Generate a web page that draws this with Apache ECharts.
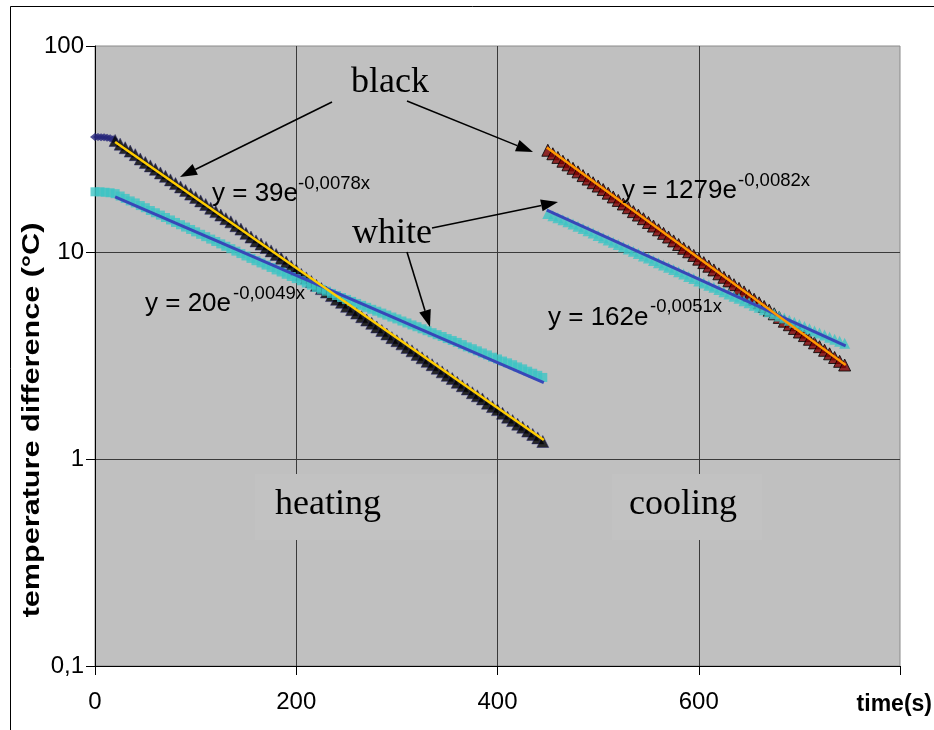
<!DOCTYPE html>
<html>
<head>
<meta charset="utf-8">
<title>temperature difference</title>
<script src="https://cdn.jsdelivr.net/npm/echarts@6/dist/echarts.min.js"></script>
<style>
	html, body { margin: 0; padding: 0; background: #fff; }
	#main { width: 934px; height: 730px; }
</style>
</head>
<body>
<div id="main"></div>
<script>
// values (time in s, temperature difference in °C)
const diamondTimes = [0, 3, 6, 9, 12, 15, 18]
const diamondValues = [36.3, 36.3, 36.2, 36.2, 36.0, 35.8, 35.4]

const heatTimes = [20, 25, 30, 35, 40, 45, 50, 55, 60, 65, 70, 75, 80, 85, 90, 95, 100, 105, 110, 115,
	120, 125, 130, 135, 140, 145, 150, 155, 160, 165, 170, 175, 180, 185, 190, 195, 200, 205, 210, 215,
	220, 225, 230, 235, 240, 245, 250, 255, 260, 265, 270, 275, 280, 285, 290, 295, 300, 305, 310, 315,
	320, 325, 330, 335, 340, 345, 350, 355, 360, 365, 370, 375, 380, 385, 390, 395, 400, 405, 410, 415,
	420, 425, 430, 435, 440, 445]
const blackHeat = [34.9, 33.5, 32.2, 31.0, 29.8, 28.4, 27.3, 26.3, 25.3, 24.3,
	23.4, 22.5, 21.6, 20.8, 20.0, 19.2, 18.5, 17.8, 17.1, 16.4,
	15.8, 15.2, 14.6, 14.1, 13.5, 13.0, 12.4, 11.9, 11.4, 11.0,
	10.6, 10.2, 9.8, 9.4, 9.0, 8.6, 8.25, 7.85, 7.55, 7.25,
	6.95, 6.7, 6.45, 6.2, 5.95, 5.75, 5.5, 5.3, 5.1, 4.9,
	4.72, 4.55, 4.37, 4.2, 4.04, 3.88, 3.75, 3.62, 3.48, 3.35,
	3.22, 3.1, 2.98, 2.87, 2.76, 2.65, 2.55, 2.46, 2.36, 2.27,
	2.19, 2.1, 2.03, 1.96, 1.87, 1.8, 1.74, 1.67, 1.6, 1.54,
	1.48, 1.43, 1.37, 1.32, 1.27, 1.22]

const whiteHeatTimes = [0, 5, 10, 15].concat(heatTimes)
const whiteHeat = [19.7, 19.7, 19.6, 19.5,
	19.3, 18.8, 18.3, 17.8, 17.4, 16.9, 16.5, 16.0, 15.6, 15.2,
	14.8, 14.4, 14.0, 13.65, 13.3, 12.95, 12.61, 12.27, 11.95, 11.63,
	11.33, 11.03, 10.74, 10.45, 10.17, 9.9, 9.64, 9.38, 9.14, 8.92,
	8.71, 8.48, 8.25, 8.06, 7.86, 7.67, 7.49, 7.31, 7.13, 6.97,
	6.79, 6.65, 6.51, 6.35, 6.2, 6.07, 5.94, 5.81, 5.68, 5.56,
	5.44, 5.32, 5.21, 5.1, 4.99, 4.88, 4.78, 4.67, 4.57, 4.47,
	4.38, 4.28, 4.19, 4.1, 4.01, 3.93, 3.84, 3.76, 3.68, 3.59,
	3.5, 3.43, 3.35, 3.27, 3.2, 3.12, 3.06, 2.99, 2.93, 2.87,
	2.8, 2.74, 2.67, 2.61, 2.55, 2.49]

const coolTimes = [450, 455, 460, 465, 470, 475, 480, 485, 490, 495, 500, 505, 510, 515, 520, 525, 530, 535, 540, 545,
	550, 555, 560, 565, 570, 575, 580, 585, 590, 595, 600, 605, 610, 615, 620, 625, 630, 635, 640, 645,
	650, 655, 660, 665, 670, 675, 680, 685, 690, 695, 700, 705, 710, 715, 720, 725, 730, 735, 740, 745]
const blackCool = [31.3, 30.1, 28.9, 27.7, 26.6, 25.6, 24.6, 23.6, 22.7, 21.8,
	21.0, 20.2, 19.4, 18.6, 17.9, 17.2, 16.5, 15.8, 15.2, 14.6,
	14.0, 13.45, 12.9, 12.4, 11.9, 11.4, 10.95, 10.5, 10.1, 9.7,
	9.3, 8.95, 8.6, 8.25, 7.9, 7.6, 7.3, 7.0, 6.72, 6.46,
	6.2, 5.95, 5.72, 5.49, 5.27, 5.06, 4.86, 4.66, 4.48, 4.3,
	4.13, 3.97, 3.81, 3.66, 3.51, 3.37, 3.24, 3.11, 2.98, 2.86]
const whiteCool = [15.46, 15.1, 14.77, 14.43, 14.11, 13.76, 13.42, 13.08, 12.75, 12.44,
	12.12, 11.82, 11.52, 11.23, 10.95, 10.67, 10.41, 10.15, 9.9, 9.64,
	9.41, 9.17, 8.94, 8.71, 8.5, 8.28, 8.08, 7.88, 7.67, 7.49,
	7.3, 7.13, 6.96, 6.8, 6.64, 6.47, 6.31, 6.16, 6.02, 5.86,
	5.72, 5.57, 5.44, 5.3, 5.18, 5.06, 4.94, 4.83, 4.71, 4.6,
	4.49, 4.39, 4.29, 4.18, 4.09, 4.0, 3.9, 3.81, 3.73, 3.64]

// trend lines (exponential -> straight on the log axis), end points
const trendHeatTimes = [20, 446]
const trendBlackHeat = [34.3, 1.24]
const trendWhiteHeat = [18.6, 2.35]
const trendCoolTimes = [449, 746]
const trendBlackCool = [32.3, 2.86]
const trendWhiteCool = [16.05, 3.54]

const pairs = (xs, ys) => xs.map((x, i) => [x, ys[i]])

const SANS = "'Liberation Sans', Arial, sans-serif"
const SERIF = "'Liberation Serif', 'Times New Roman', serif"

// text placed by left edge and baseline
const label = (text, x, baseline, size, family, weight, align) => ({
	type: 'text',
	z: 20,
	style: {
		text: text,
		x: x,
		y: baseline - size * 0.35,
		fill: '#000',
		font: (weight || 'normal') + ' ' + size + 'px ' + family,
		align: align || 'left',
		verticalAlign: 'middle'
	}
})

const arrow = (x1, y1, x2, y2) => {
	const L = Math.hypot(x2 - x1, y2 - y1)
	const ux = (x2 - x1) / L
	const uy = (y2 - y1) / L
	const bx = x2 - ux * 17
	const by = y2 - uy * 17
	return [
		{ type: 'line', z: 20, shape: { x1: x1, y1: y1, x2: bx, y2: by }, style: { stroke: '#000', lineWidth: 1.6 } },
		{
			type: 'polygon', z: 20,
			shape: { points: [[x2, y2], [bx - uy * 6, by + ux * 6], [bx + uy * 6, by - ux * 6]] },
			style: { fill: '#000' }
		}
	]
}

const chart = echarts.init(document.getElementById('main'))

const option = {
	animation: false,
	grid: {
		left: 95, right: 34, top: 46, bottom: 64,
		outerBoundsMode: 'none',
		containLabel: false,
		show: true,
		backgroundColor: '#c0c0c0',
		borderColor: '#8a8a8a',
		borderWidth: 1
	},
	xAxis: {
		type: 'value',
		min: 0, max: 800, interval: 200,
		axisLine: { lineStyle: { color: '#000', width: 1 } },
		axisTick: { show: true, inside: false, length: 9, lineStyle: { color: '#000' } },
		axisLabel: {
			margin: 24,
			color: '#000',
			fontSize: 24,
			fontFamily: SANS,
			formatter: v => (v === 800 ? '' : String(v))
		},
		splitLine: { show: true, showMinLine: false, showMaxLine: false, lineStyle: { color: '#3a3a3a', width: 1 } }
	},
	yAxis: {
		type: 'log',
		logBase: 10,
		min: 0.1, max: 100,
		axisLine: { show: true, lineStyle: { color: '#000', width: 1 } },
		axisTick: { show: true, length: 9, lineStyle: { color: '#000' } },
		axisLabel: {
			margin: 11,
			color: '#000',
			fontSize: 24,
			fontFamily: SANS,
			formatter: v => String(Math.round(v * 10) / 10).replace('.', ',')
		},
		splitLine: { show: true, showMinLine: false, showMaxLine: false, lineStyle: { color: '#3a3a3a', width: 1 } }
	},
	graphic: [
		// outer frame of the chart
		{ type: 'rect', z: 0, silent: true, shape: { x: 10.5, y: 6.5, width: 960, height: 760 }, style: { fill: 'none', stroke: '#000', lineWidth: 1 } },
		// text boxes that hide the grid lines behind the region labels
		{ type: 'rect', z: 1, silent: true, shape: { x: 255, y: 474, width: 242, height: 66 }, style: { fill: '#c2c2c2' } },
		{ type: 'rect', z: 1, silent: true, shape: { x: 612, y: 474, width: 150, height: 66 }, style: { fill: '#c2c2c2' } },
		// y axis title, drawn stretched along its length like the original
		{
			type: 'text', z: 20,
			x: 33, y: 420,
			rotation: Math.PI / 2,
			scaleX: 1.33,
			style: {
				text: 'temperature difference (°C)',
				x: 0, y: 0,
				fill: '#000',
				font: 'bold 23px ' + SANS,
				align: 'center',
				verticalAlign: 'middle'
			}
		},
		label('black', 351, 95, 36, SERIF),
		label('white', 352, 246, 36, SERIF),
		label('heating', 275, 517, 36, SERIF),
		label('cooling', 629, 517, 36, SERIF),
		label('y = 39e', 212, 203, 26, SANS),
		label('-0,0078x', 298, 190, 18.5, SANS),
		label('y = 20e', 145, 313, 26, SANS),
		label('-0,0049x', 233, 300, 18.5, SANS),
		label('y = 1279e', 622, 200, 26, SANS),
		label('-0,0082x', 738, 187, 18.5, SANS),
		label('y = 162e', 548, 327, 26, SANS),
		label('-0,0051x', 650, 313, 18.5, SANS),
		label('time(s)', 932, 713, 23, SANS, 'bold', 'right'),
		...arrow(332, 102, 180, 177),
		...arrow(407, 101, 533, 152),
		...arrow(432, 228, 558, 202),
		...arrow(407, 252, 430, 327)
	],
	series: [
		{
			name: 'black start',
			type: 'scatter',
			symbol: 'diamond',
			symbolSize: [10, 8],
			itemStyle: { color: '#26267a' },
			data: pairs(diamondTimes, diamondValues)
		},
		{
			name: 'black heating',
			type: 'scatter',
			symbol: 'triangle',
			symbolSize: 12,
			itemStyle: { color: '#000', borderColor: '#22226e', borderWidth: 0.6 },
			data: pairs(heatTimes, blackHeat)
		},
		{
			name: 'white heating',
			type: 'scatter',
			symbol: 'rect',
			symbolSize: 9,
			itemStyle: { color: '#3cc4c4' },
			data: pairs(whiteHeatTimes, whiteHeat)
		},
		{
			name: 'black cooling',
			type: 'scatter',
			symbol: 'triangle',
			symbolSize: 12,
			itemStyle: { color: '#800000', borderColor: '#000', borderWidth: 1 },
			data: pairs(coolTimes, blackCool)
		},
		{
			name: 'white cooling',
			type: 'scatter',
			symbol: 'triangle',
			symbolSize: 11,
			itemStyle: { color: '#3cc4c4' },
			data: pairs(coolTimes, whiteCool)
		},
		{
			name: 'fit white heating',
			type: 'line', z: 5, showSymbol: false,
			lineStyle: { color: '#3847b8', width: 3 },
			data: pairs(trendHeatTimes, trendWhiteHeat)
		},
		{
			name: 'fit black heating',
			type: 'line', z: 5, showSymbol: false,
			lineStyle: { color: '#ffcc00', width: 2.5 },
			data: pairs(trendHeatTimes, trendBlackHeat)
		},
		{
			name: 'fit white cooling',
			type: 'line', z: 5, showSymbol: false,
			lineStyle: { color: '#3847b8', width: 3 },
			data: pairs(trendCoolTimes, trendWhiteCool)
		},
		{
			name: 'fit black cooling',
			type: 'line', z: 5, showSymbol: false,
			lineStyle: { color: '#ff9900', width: 2.5 },
			data: pairs(trendCoolTimes, trendBlackCool)
		}
	]
}

chart.setOption(option)
window.addEventListener('resize', () => {
	chart.resize()
})
</script>
</body>
</html>
